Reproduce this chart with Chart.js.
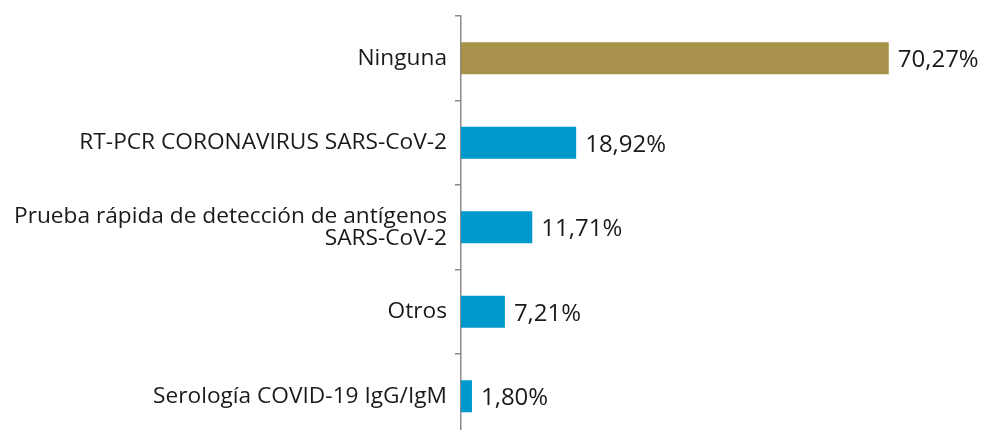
<!DOCTYPE html>
<html>
<head>
<meta charset="utf-8">
<script src="https://cdn.jsdelivr.net/npm/chart.js@4"></script>
<style>
  html, body { margin: 0; padding: 0; background: #ffffff; overflow: hidden; }
  #wrap { width: 982px; height: 430px; overflow: hidden; position: relative; }
  #box { width: 982px; height: 440px; position: absolute; left: 0; top: 0; }
</style>
</head>
<body>
<div id="wrap"><div id="box"><canvas id="c"></canvas></div></div>
<script>
const categories = [
  "Ninguna",
  "RT-PCR CORONAVIRUS SARS-CoV-2",
  ["Prueba rápida de detección de antígenos", "SARS-CoV-2"],
  "Otros",
  "Serología COVID-19 IgG/IgM"
];
const values = [70.27, 18.92, 11.71, 7.21, 1.80];
const barColors = ["#A8914A", "#0099CC", "#0099CC", "#0099CC", "#0099CC"];

const FONT = "'Open Sans', 'Noto Sans', sans-serif";

const valueLabels = {
  id: 'valueLabels',
  afterDatasetsDraw(chart) {
    const ctx = chart.ctx;
    const meta = chart.getDatasetMeta(0);
    ctx.save();
    ctx.font = "24px " + FONT;
    ctx.fillStyle = "#1a1a1a";
    ctx.textAlign = "left";
    ctx.textBaseline = "middle";
    meta.data.forEach((bar, i) => {
      const txt = values[i].toFixed(2).replace('.', ',') + '%';
      ctx.fillText(txt, bar.x + 9, bar.y + 2);
    });
    ctx.restore();
  }
};

new Chart(document.getElementById('c'), {
  type: 'bar',
  data: {
    labels: categories,
    datasets: [{
      data: values,
      backgroundColor: barColors,
      borderWidth: 0,
      barPercentage: 0.38,
      categoryPercentage: 1.0
    }]
  },
  options: {
    indexAxis: 'y',
    responsive: true,
    maintainAspectRatio: false,
    animation: false,
    layout: { padding: { top: 16, bottom: 1.5, right: 34, left: 0 } },
    plugins: {
      legend: { display: false },
      tooltip: { enabled: false }
    },
    scales: {
      x: {
        display: false,
        min: 0,
        max: 80
      },
      y: {
        afterFit(axis) {
          axis.width = 461;
          axis.paddingTop = 0;
          axis.paddingBottom = 0;
        },
        border: { display: true, color: '#8a8a8a', width: 1.5 },
        grid: {
          drawOnChartArea: false,
          drawTicks: true,
          tickLength: 6,
          color: '#8a8a8a',
          lineWidth: 1.5,
          offset: true
        },
        ticks: {
          padding: 8,
          color: '#1a1a1a',
          font: { family: FONT, size: 22.7, lineHeight: '22px' }
        }
      }
    }
  },
  plugins: [valueLabels]
});
</script>
</body>
</html>
